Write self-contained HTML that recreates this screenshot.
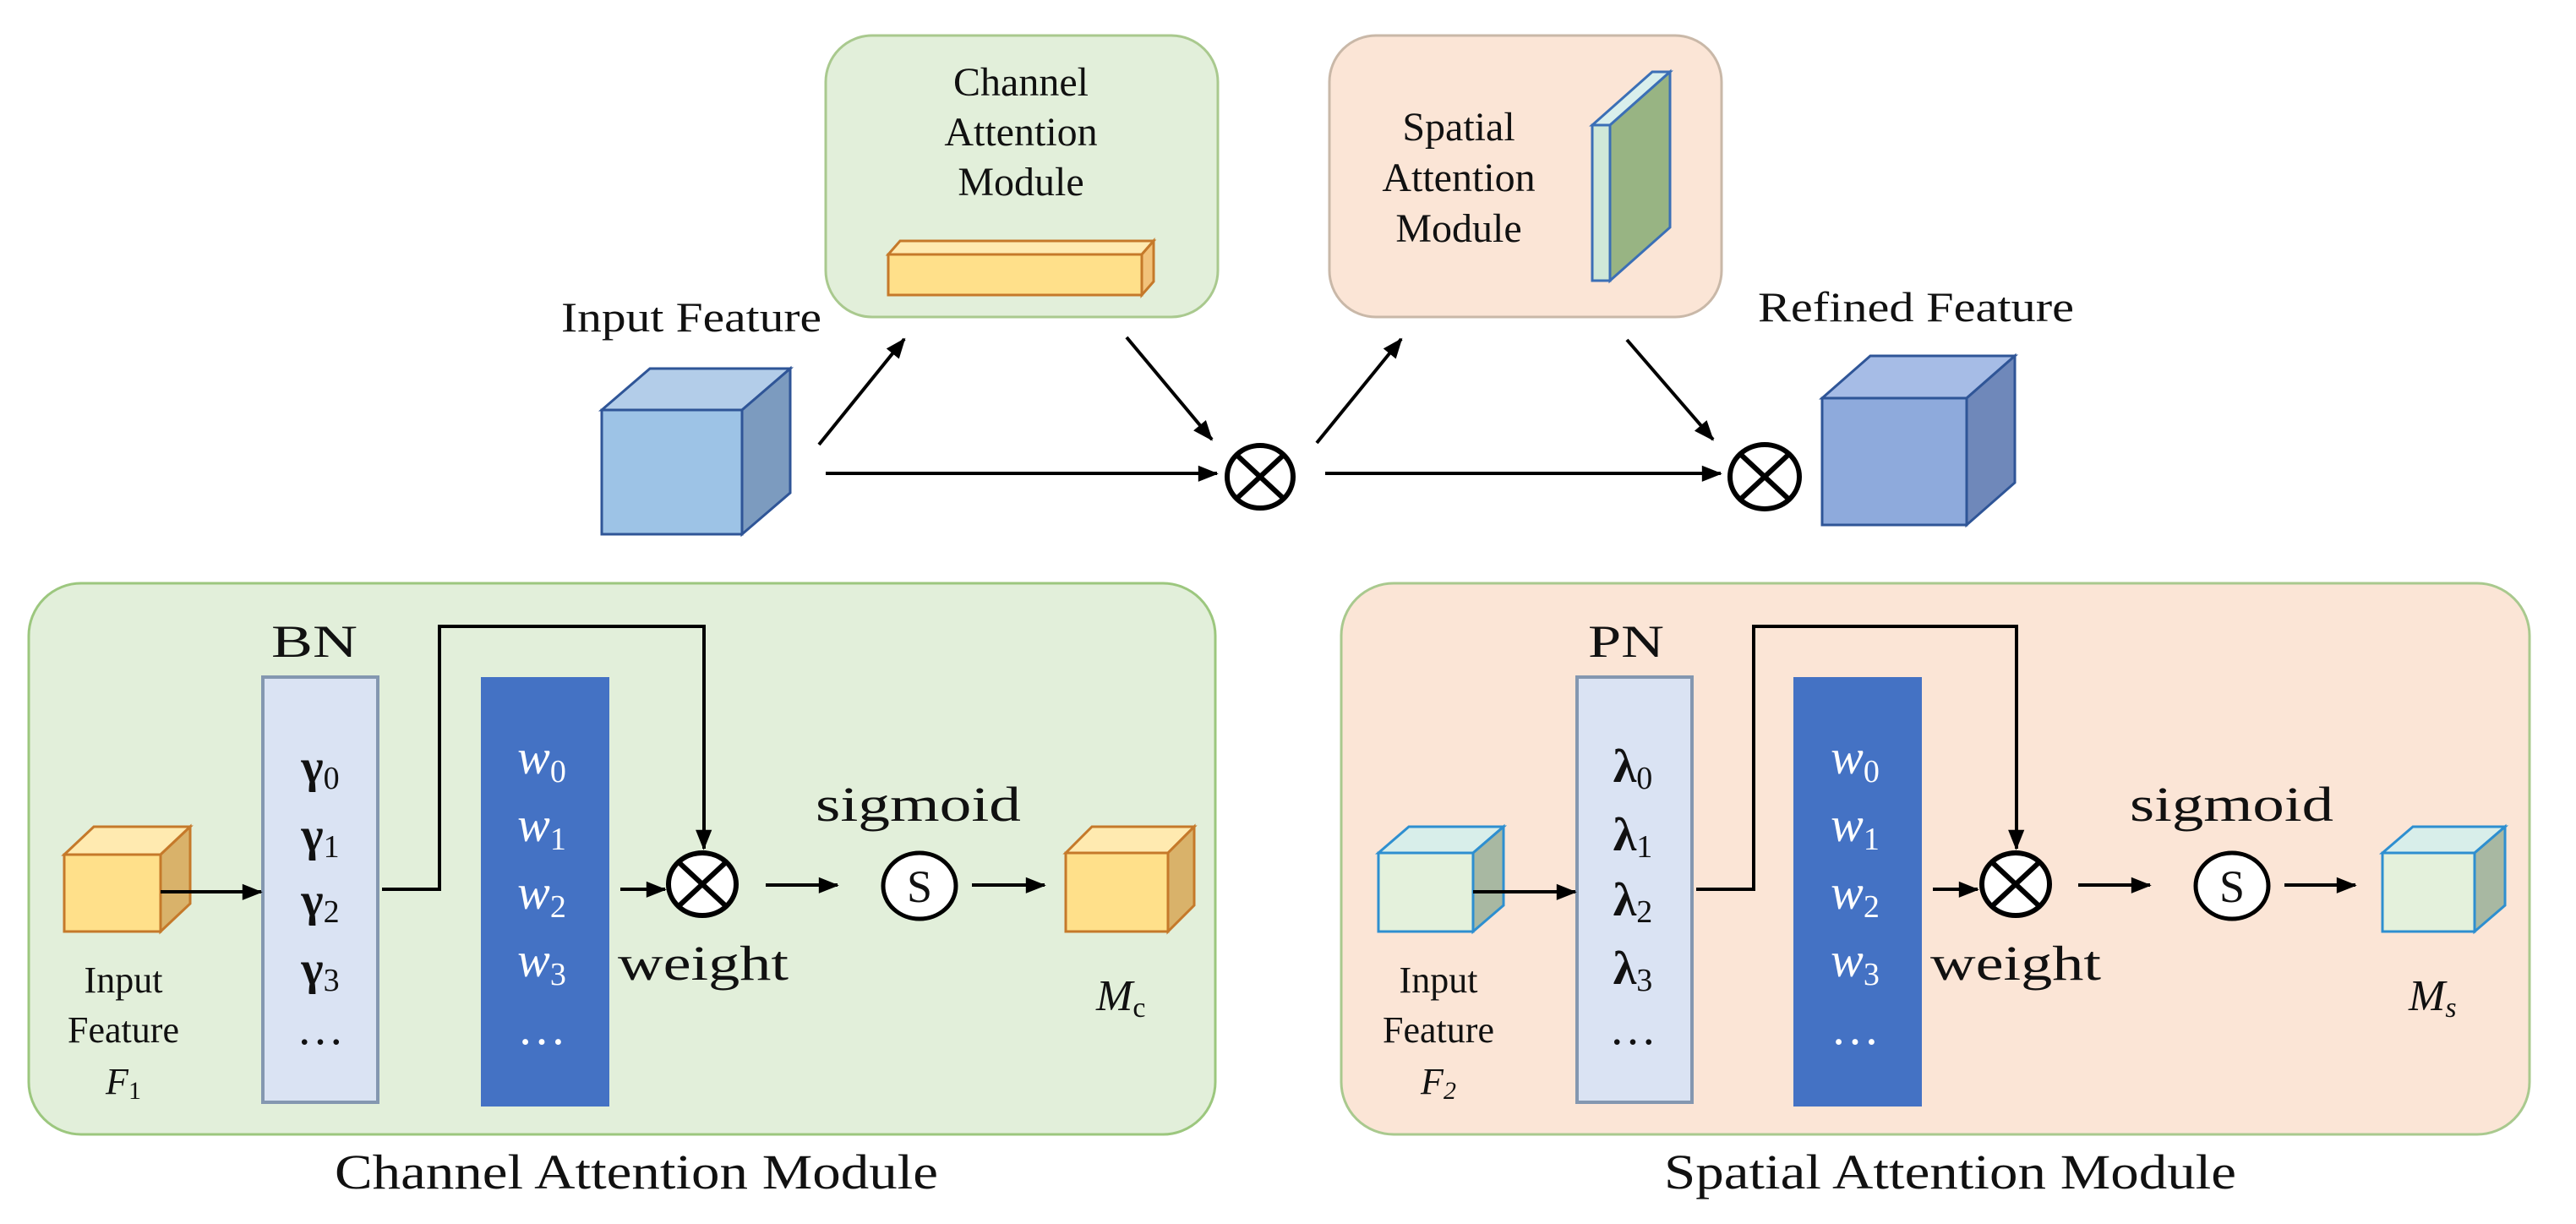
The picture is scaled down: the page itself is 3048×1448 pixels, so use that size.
<!DOCTYPE html>
<html><head><meta charset="utf-8"><style>
html,body{margin:0;padding:0;background:#fff;}
svg{display:block;}
text{font-family:"Liberation Serif",serif;fill:#111;}
</style></head><body>
<svg width="3048" height="1448" viewBox="0 0 3048 1448" xmlns="http://www.w3.org/2000/svg">
<defs>
<marker id="ah" markerWidth="10" markerHeight="8" refX="9" refY="4" orient="auto" markerUnits="userSpaceOnUse" viewBox="0 0 10 8" style="overflow:visible">
<path d="M0,0 L10,4 L0,8 z" fill="#000" transform="scale(2.4) translate(-5.5,-2.2)"/>
</marker>
</defs>

<!-- ===== TOP ===== -->
<rect x="977" y="42" width="464" height="333" rx="55" fill="#e2efda" stroke="#a9c98e" stroke-width="3"/>
<text font-size="48" text-anchor="middle" x="1208" y="113">Channel</text>
<text font-size="48" text-anchor="middle" x="1208" y="172">Attention</text>
<text font-size="48" text-anchor="middle" x="1208" y="231">Module</text>
<polygon points="1051,301 1065,285 1365,285 1351,301" fill="#ffeab0" stroke="#c5792a" stroke-width="3"/>
<polygon points="1351,301 1365,285 1365,333 1351,349" fill="#f2c27a" stroke="#c5792a" stroke-width="3"/>
<rect x="1051" y="301" width="300" height="48" fill="#ffe08a" stroke="#c5792a" stroke-width="3"/>

<rect x="1573" y="42" width="464" height="333" rx="55" fill="#fbe5d6" stroke="#c9b8a8" stroke-width="3"/>
<text font-size="48" text-anchor="middle" x="1726" y="166">Spatial</text>
<text font-size="48" text-anchor="middle" x="1726" y="226">Attention</text>
<text font-size="48" text-anchor="middle" x="1726" y="286">Module</text>
<polygon points="1884,148 1955,85 1976,85 1905,148" fill="#d9efec" stroke="#3b6fb6" stroke-width="3"/>
<polygon points="1905,148 1976,85 1976,269 1905,332" fill="#98b483" stroke="#3b6fb6" stroke-width="3"/>
<rect x="1884" y="148" width="21" height="184" fill="#cfe8d8" stroke="#3b6fb6" stroke-width="3"/>

<text font-size="50" x="664" y="392" textLength="308" lengthAdjust="spacingAndGlyphs">Input Feature</text>
<text font-size="50" x="2080" y="380" textLength="374" lengthAdjust="spacingAndGlyphs">Refined Feature</text>

<polygon points="712,485 769,436 935,436 878,485" fill="#b3cde9" stroke="#2f5597" stroke-width="3"/>
<polygon points="878,485 935,436 935,583 878,632" fill="#7c9bbf" stroke="#2f5597" stroke-width="3"/>
<rect x="712" y="485" width="166" height="147" fill="#9dc3e6" stroke="#2f5597" stroke-width="3"/>
<polygon points="2156,471 2213,421 2384,421 2327,471" fill="#a6bce6" stroke="#2f5597" stroke-width="3"/>
<polygon points="2327,471 2384,421 2384,571 2327,621" fill="#6f88ba" stroke="#2f5597" stroke-width="3"/>
<rect x="2156" y="471" width="171" height="150" fill="#8eaadc" stroke="#2f5597" stroke-width="3"/>

<g stroke="#000" stroke-width="4" fill="none" marker-end="url(#ah)">
<line x1="969" y1="526" x2="1070" y2="401"/>
<line x1="977" y1="560" x2="1440" y2="560"/>
<line x1="1333" y1="399" x2="1434" y2="520"/>
<line x1="1558" y1="524" x2="1658" y2="401"/>
<line x1="1568" y1="560" x2="2036" y2="560"/>
<line x1="1925" y1="402" x2="2027" y2="520"/>
</g>
<g stroke="#000" stroke-width="6" fill="#fff">
<ellipse cx="1491" cy="564" rx="39" ry="37"/>
<ellipse cx="2088" cy="564" rx="41" ry="38"/>
</g>
<g stroke="#000" stroke-width="6">
<line x1="1463" y1="538" x2="1519" y2="590"/><line x1="1519" y1="538" x2="1463" y2="590"/>
<line x1="2059" y1="537" x2="2117" y2="591"/><line x1="2117" y1="537" x2="2059" y2="591"/>
</g>

<!-- ===== BOTTOM LEFT ===== -->
<rect x="34" y="690" width="1404" height="652" rx="62" fill="#e2efda" stroke="#9cc77e" stroke-width="3"/>
<text font-size="54" x="321" y="777" textLength="102" lengthAdjust="spacingAndGlyphs">BN</text>
<rect x="311" y="801" width="136" height="503" fill="#dae3f3" stroke="#8497b0" stroke-width="4"/>
<rect x="569" y="801" width="152" height="508" fill="#4472c4"/>
<g font-size="56" text-anchor="middle">
<text x="379" y="925"><tspan font-weight="bold">γ</tspan><tspan font-size="38" dy="8">0</tspan></text>
<text x="379" y="1006"><tspan font-weight="bold">γ</tspan><tspan font-size="38" dy="8">1</tspan></text>
<text x="379" y="1083"><tspan font-weight="bold">γ</tspan><tspan font-size="38" dy="8">2</tspan></text>
<text x="379" y="1164"><tspan font-weight="bold">γ</tspan><tspan font-size="38" dy="8">3</tspan></text>
<text x="379" y="1235">…</text>
</g>
<g font-size="58" text-anchor="middle">
<text x="641" y="915" style="fill:#fff"><tspan font-style="italic">w</tspan><tspan font-size="38" dy="10">0</tspan></text>
<text x="641" y="995" style="fill:#fff"><tspan font-style="italic">w</tspan><tspan font-size="38" dy="10">1</tspan></text>
<text x="641" y="1075" style="fill:#fff"><tspan font-style="italic">w</tspan><tspan font-size="38" dy="10">2</tspan></text>
<text x="641" y="1155" style="fill:#fff"><tspan font-style="italic">w</tspan><tspan font-size="38" dy="10">3</tspan></text>
<text x="641" y="1235" style="fill:#fff">…</text>
</g>
<polygon points="76,1011 111,978 225,978 190,1011" fill="#ffeab0" stroke="#c5792a" stroke-width="3"/>
<polygon points="190,1011 225,978 225,1069 190,1102" fill="#d9b26a" stroke="#c5792a" stroke-width="3"/>
<rect x="76" y="1011" width="114" height="91" fill="#ffe08a" stroke="#c5792a" stroke-width="3"/>
<polygon points="1261,1009 1292,978 1413,978 1382,1009" fill="#ffeab0" stroke="#c5792a" stroke-width="3"/>
<polygon points="1382,1009 1413,978 1413,1071 1382,1102" fill="#d9b26a" stroke="#c5792a" stroke-width="3"/>
<rect x="1261" y="1009" width="121" height="93" fill="#ffe08a" stroke="#c5792a" stroke-width="3"/>

<g font-size="44" text-anchor="middle">
<text x="146" y="1174">Input</text>
<text x="146" y="1233">Feature</text>
<text x="146" y="1294"><tspan font-style="italic">F</tspan><tspan font-size="30" dy="6">1</tspan></text>
</g>
<text font-size="58" x="965" y="971" textLength="243" lengthAdjust="spacingAndGlyphs">sigmoid</text>
<text font-size="58" x="731" y="1159" textLength="202" lengthAdjust="spacingAndGlyphs">weight</text>
<text font-size="52" x="1297" y="1195"><tspan font-style="italic">M</tspan><tspan font-size="34" dy="8">c</tspan></text>
<text font-size="58" x="396" y="1406" textLength="714" lengthAdjust="spacingAndGlyphs">Channel Attention Module</text>

<g stroke="#000" stroke-width="4" fill="none" marker-end="url(#ah)">
<line x1="190" y1="1055" x2="309" y2="1055"/>
<polyline points="452,1052 520,1052 520,741 833,741 833,1004"/>
<line x1="734" y1="1052" x2="787" y2="1052"/>
<line x1="906" y1="1047" x2="991" y2="1047"/>
<line x1="1150" y1="1047" x2="1236" y2="1047"/>
</g>
<ellipse cx="831" cy="1046" rx="40" ry="37" stroke="#000" stroke-width="6" fill="#fff"/>
<line x1="803" y1="1020" x2="859" y2="1072" stroke="#000" stroke-width="6"/>
<line x1="859" y1="1020" x2="803" y2="1072" stroke="#000" stroke-width="6"/>
<ellipse cx="1088" cy="1048" rx="43" ry="39" stroke="#000" stroke-width="5" fill="#fff"/>
<text font-size="54" text-anchor="middle" x="1088" y="1067">S</text>

<!-- ===== BOTTOM RIGHT ===== -->
<rect x="1587" y="690" width="1406" height="652" rx="62" fill="#fbe5d6" stroke="#a9c98e" stroke-width="3"/>
<text font-size="54" x="1879" y="777" textLength="90" lengthAdjust="spacingAndGlyphs">PN</text>
<rect x="1866" y="801" width="136" height="503" fill="#dae3f3" stroke="#8497b0" stroke-width="4"/>
<rect x="2122" y="801" width="152" height="508" fill="#4472c4"/>
<g font-size="56" text-anchor="middle">
<text x="1932" y="925"><tspan font-weight="bold">λ</tspan><tspan font-size="38" dy="8">0</tspan></text>
<text x="1932" y="1006"><tspan font-weight="bold">λ</tspan><tspan font-size="38" dy="8">1</tspan></text>
<text x="1932" y="1083"><tspan font-weight="bold">λ</tspan><tspan font-size="38" dy="8">2</tspan></text>
<text x="1932" y="1164"><tspan font-weight="bold">λ</tspan><tspan font-size="38" dy="8">3</tspan></text>
<text x="1932" y="1235">…</text>
</g>
<g font-size="58" text-anchor="middle">
<text x="2195" y="915" style="fill:#fff"><tspan font-style="italic">w</tspan><tspan font-size="38" dy="10">0</tspan></text>
<text x="2195" y="995" style="fill:#fff"><tspan font-style="italic">w</tspan><tspan font-size="38" dy="10">1</tspan></text>
<text x="2195" y="1075" style="fill:#fff"><tspan font-style="italic">w</tspan><tspan font-size="38" dy="10">2</tspan></text>
<text x="2195" y="1155" style="fill:#fff"><tspan font-style="italic">w</tspan><tspan font-size="38" dy="10">3</tspan></text>
<text x="2195" y="1235" style="fill:#fff">…</text>
</g>
<polygon points="1631,1009 1667,978 1779,978 1743,1009" fill="#d8eeea" stroke="#2e8fd0" stroke-width="3"/>
<polygon points="1743,1009 1779,978 1779,1071 1743,1102" fill="#a8b8a2" stroke="#2e8fd0" stroke-width="3"/>
<rect x="1631" y="1009" width="112" height="93" fill="#e4f1dc" stroke="#2e8fd0" stroke-width="3"/>
<polygon points="2819,1009 2855,978 2964,978 2928,1009" fill="#d8eeea" stroke="#2e8fd0" stroke-width="3"/>
<polygon points="2928,1009 2964,978 2964,1071 2928,1102" fill="#a8b8a2" stroke="#2e8fd0" stroke-width="3"/>
<rect x="2819" y="1009" width="109" height="93" fill="#e4f1dc" stroke="#2e8fd0" stroke-width="3"/>

<g font-size="44" text-anchor="middle">
<text x="1702" y="1174">Input</text>
<text x="1702" y="1233">Feature</text>
<text x="1702" y="1294"><tspan font-style="italic">F</tspan><tspan font-size="30" dy="6" font-style="italic">2</tspan></text>
</g>
<text font-size="58" x="2520" y="971" textLength="241" lengthAdjust="spacingAndGlyphs">sigmoid</text>
<text font-size="58" x="2284" y="1159" textLength="202" lengthAdjust="spacingAndGlyphs">weight</text>
<text font-size="52" x="2850" y="1195"><tspan font-style="italic">M</tspan><tspan font-size="34" dy="8" font-style="italic">s</tspan></text>
<text font-size="58" x="1969" y="1406" textLength="677" lengthAdjust="spacingAndGlyphs">Spatial Attention Module</text>

<g stroke="#000" stroke-width="4" fill="none" marker-end="url(#ah)">
<line x1="1743" y1="1055" x2="1864" y2="1055"/>
<polyline points="2007,1052 2075,1052 2075,741 2386,741 2386,1004"/>
<line x1="2287" y1="1052" x2="2340" y2="1052"/>
<line x1="2459" y1="1047" x2="2544" y2="1047"/>
<line x1="2703" y1="1047" x2="2787" y2="1047"/>
</g>
<ellipse cx="2385" cy="1046" rx="40" ry="37" stroke="#000" stroke-width="6" fill="#fff"/>
<line x1="2357" y1="1020" x2="2413" y2="1072" stroke="#000" stroke-width="6"/>
<line x1="2413" y1="1020" x2="2357" y2="1072" stroke="#000" stroke-width="6"/>
<ellipse cx="2641" cy="1048" rx="43" ry="39" stroke="#000" stroke-width="5" fill="#fff"/>
<text font-size="54" text-anchor="middle" x="2641" y="1067">S</text>
</svg>
</body></html>
